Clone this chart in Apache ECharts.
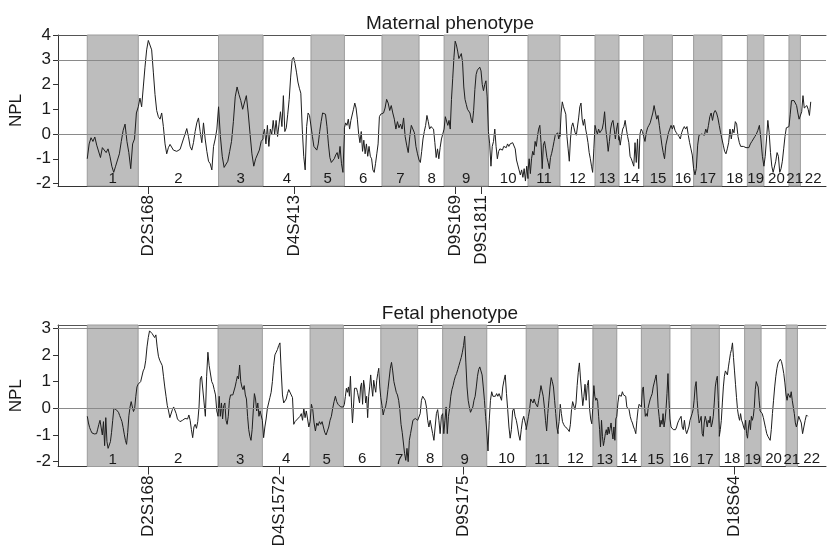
<!DOCTYPE html>
<html>
<head>
<meta charset="utf-8">
<script src="https://cdn.jsdelivr.net/npm/echarts@6/dist/echarts.min.js"></script>
<style>
  html, body { margin: 0; padding: 0; background: #fff; }
  #chart { width: 827px; height: 550px; }
</style>
</head>
<body>
<div id="chart"></div>
<script>
const chromosomes = ['1', '2', '3', '4', '5', '6', '7', '8', '9', '10', '11', '12', '13', '14', '15', '16', '17', '18', '19', '20', '21', '22'];
// genetic length of each chromosome, cM
const chrLengths = [281, 442, 245, 264, 184, 207, 204, 138, 244, 218, 176, 193, 132, 136, 158, 117, 156, 140, 91, 138, 63, 57];

// NPL scores along each chromosome (evenly spaced scan points)
const maternalNpl = [
    [-1.0, -0.4, -0.15, -0.3, -0.12, -0.45, -0.5, -0.95, -0.55, -0.6, -0.75, -0.6, -0.9, -1.3, -1.55, -1.3, -1.25, -0.8, -0.3, 0.15, 0.4, -0.3, -0.75, -1.4, -0.4, -0.2, 0.85, 1.1],
    [1.1, 1.45, 1.1, 1.9, 2.7, 3.4, 3.78, 3.7, 3.4, 2.5, 1.6, 0.95, 0.7, 0.6, 0.85, 0.3, -0.4, -0.8, -0.55, -0.42, -0.45, -0.65, -0.7, -0.7, -0.7, -0.62, -0.55, -0.2, 0.0, 0.22, -0.1, -0.5, -0.65, -0.35, 0.1, 0.45, 0.65, 0.1, -0.35, 0.45, -0.2, -0.7, -1.1, -1.2, -1.45, -0.5, -0.2, 0.2, 1.1],
    [1.1, -0.1, -0.9, -1.35, -1.35, -1.1, -0.7, -0.3, 0.5, 1.5, 1.9, 1.6, 1.35, 1.0, 1.05, 1.55, 0.85, 0.0, -0.8, -1.3, -1.0, -0.95, -0.65, -0.3, -0.2],
    [-0.05, 0.2, -0.4, 0.35, -0.5, 0.2, 0.0, 0.55, 0.0, 0.55, -0.1, 0.4, 0.9, 0.3, 1.55, 0.1, 0.25, 0.8, 1.4, 2.3, 3.0, 3.1, 2.85, 2.5, 2.1, 1.85, 1.65, 0.2, -0.9, -1.45, 0.3, 0.85, 0.75, 0.7],
    [0.7, -0.1, -0.5, -0.58, -0.65, -0.4, 0.1, 0.5, 0.85, 0.85, 0.8, 0.3, -0.4, -0.95, -1.15, -1.18, -1.0, -0.85, -0.75, -1.0, -0.5, -1.2, -1.55, 0.0],
    [0.25, 0.45, 0.35, 0.6, 0.2, 0.55, 0.5, 1.0, 1.25, 1.05, 0.6, 0.0, -0.35, 0.1, -0.7, -0.25, -0.8, -0.4, -0.9, -0.5, -0.9, -1.0, -1.45, -1.55, -1.2, -0.8, -0.4, 0.7, 0.8, 0.85],
    [0.8, 0.85, 1.05, 1.4, 1.25, 0.95, 1.15, 0.85, 0.6, 0.2, 0.5, 0.25, 0.4, 0.2, 0.65, -0.1, -0.45, -0.75, -0.1, 0.35, 0.35, 0.05, -0.5, -0.8, -1.05],
    [-1.05, -1.15, -0.7, -0.2, 0.1, 0.35, 0.75, 0.5, 0.2, 0.3, 0.3, 0.2, -0.35, -0.95, -0.6, -1.0, -0.55, -0.2, 0.0, 0.2],
    [0.2, 0.7, 0.75, 0.35, 0.55, 0.2, 1.4, 2.25, 3.1, 3.75, 3.6, 3.35, 3.05, 3.05, 3.25, 2.9, 1.9, 1.4, 1.2, 1.0, 0.95, 0.85, 0.6, 0.45, 0.95, 1.8, 2.4, 2.58, 2.62, 2.7, 2.55, 2.0, 1.75, 2.0, 2.15, 1.5, 0.1],
    [0.1, -0.4, -1.3, -0.5, -0.3, 0.2, -0.5, -1.0, -0.7, -0.6, -0.55, -0.65, -0.5, -0.45, -0.55, -0.4, -0.5, -0.4, -0.35, -0.35, -0.27, -0.6, -1.05, -1.25, -1.45, -1.65, -1.45, -1.75, -1.4, -1.9, -1.3, -1.8],
    [-1.5, -1.0, -1.6, -1.0, -0.7, -0.85, -0.3, -0.5, -0.1, 0.2, 0.35, -0.35, -1.4, -0.45, -0.3, -0.6, -0.95, -1.15, -1.4, -0.95, -0.78, -0.55, -0.3, -0.05, 0.0, 0.05, -0.2, 0.05],
    [-0.1, 0.85, 1.3, 1.1, 1.1, 0.8, -0.1, -0.6, -1.1, -0.2, 0.3, 0.45, 0.25, 0.05, -0.05, 0.0, 0.65, 1.1, 1.25, 0.6, 0.35, 0.6, 0.2, -0.05, -0.35, -0.75, -1.0, -1.3, -1.55, -0.6, 0.35],
    [0.3, 0.15, 0.0, 0.2, 0.05, 0.05, 0.2, 0.45, 0.9, 0.2, -0.2, -0.7, -0.3, 0.2, 0.45, 0.55, 0.2, -0.2, 0.2, 0.45, -0.25],
    [-0.1, -0.45, -0.1, 0.2, 0.3, 0.55, 0.2, -0.1, -0.35, -0.9, -1.0, -1.05, -1.3, -0.35, -1.15, -0.2, -1.4, 0.0, 0.2, 0.1, 0.05],
    [-0.1, -0.3, 0.05, 0.25, 0.35, 0.45, 0.65, 0.85, 1.15, 1.1, 0.6, 0.75, 0.35, -0.05, -0.45, -0.75, -1.0, -0.45, -0.4, 0.05, 0.2, 0.35, 0.2],
    [0.2, 0.35, 0.15, 0.05, 0.0, -0.1, -0.2, 0.05, 0.2, 0.3, 0.2, 0.3, -0.05, -0.35, -0.6, -0.85, -1.4],
    [-1.4, -1.65, -1.4, -0.45, -0.05, 0.0, 0.0, 0.05, -0.05, 0.2, 0.05, 0.35, 0.7, 0.85, 0.55, 0.85, 0.95, 0.85, 0.65, 0.35, 0.05, -0.2],
    [-0.2, -0.45, -0.7, -0.8, -0.6, -0.35, 0.2, -0.2, 0.2, 0.05, 0.5, 0.4, -0.1, -0.35, -0.5, -0.55, -0.5, -0.55, -0.55, -0.55],
    [-0.55, -0.55, -0.4, -0.3, -0.2, -0.1, 0.0, 0.15, 0.35, -0.2, -0.9, -1.3],
    [-1.3, -0.9, -0.2, 0.55, 0.05, -0.75, -1.3, -1.55, -1.5, -1.1, -0.75, -0.9, -1.55, -1.4, -1.1, -0.6, -0.1, 0.25, 0.25, 0.3],
    [0.3, 0.8, 1.35, 1.4, 1.35, 1.3, 1.15, 0.85, 0.6, 0.55],
    [0.55, 0.9, 1.55, 1.05, 1.0, 1.15, 1.0, 0.75, 1.3]
];

const fetalNpl = [
    [-0.3, -0.55, -0.72, -0.83, -0.92, -0.94, -0.96, -0.97, -0.95, -0.78, -0.6, -0.45, -0.5, -1.0, -0.5, -1.4, -0.35, -1.25, -1.5, -1.47, -1.25, -0.9, -0.45, 0.0, 0.02, -0.05, -0.05, -0.15, -0.27, -0.38, -0.5, -0.72, -0.97, -1.2, -1.35, -0.9, -0.28, 0.05, 0.25, 0.05, -0.12, 0.0, 0.45, 0.8, 0.9],
    [0.9, 0.95, 1.0, 1.05, 1.4, 1.5, 1.8, 2.3, 2.65, 2.9, 2.85, 2.8, 2.75, 2.65, 2.75, 2.3, 1.95, 1.8, 1.7, 1.6, 1.2, 0.8, 0.45, 0.1, -0.1, -0.35, -0.4, -0.05, 0.05, 0.05, -0.2, -0.4, -0.45, -0.5, -0.5, -0.45, -0.42, -0.38, -0.35, -0.4, -0.25, -0.45, -0.8, -1.1, -0.7, -0.6, -0.75, -0.5, 0.05, 1.1, 1.2, 1.25, 0.2, -0.3, 1.2, 2.1, 1.6, 1.55, 1.0, 0.9, 0.7, 0.5, -0.1, -0.3],
    [-0.25, 0.45, -0.3, 0.2, -0.4, 0.1, 0.2, -0.45, -0.6, -0.3, 0.3, 0.5, 0.55, 0.5, 0.55, 0.8, 1.0, 1.2, 1.1, 1.62, 1.0, 0.8, 0.7, 0.85, 0.5, 0.35, -0.3, -0.8, -1.05, -1.2, -0.8, -0.1, 0.55, 0.35, -0.1, 0.2, -0.3, -0.1, -0.15, -0.45],
    [-0.45, -1.1, -0.7, -0.4, 0.0, 0.2, 0.4, 0.6, 1.0, 1.6, 2.0, 2.1, 2.2, 2.35, 2.45, 1.4, 0.5, 0.2, 0.15, 0.35, 0.55, 0.7, 0.7, 0.5, 0.4, -0.6, -0.5, -0.45, -0.4, -0.45, -0.3, -0.2, -0.45, 0.0, -0.35, -0.1, -0.4, -0.7, -0.5],
    [-0.45, 0.15, -0.05, -0.55, -0.85, -0.55, -0.65, -0.5, -0.6, -0.5, -0.7, -0.9, -1.0, -0.85, -0.7, -0.45, -0.3, 0.0, 0.25, 0.45, 0.25, 0.15, 0.1, 0.05, 0.0, 0.05],
    [0.05, 0.15, 0.45, 0.75, 0.6, 0.8, 0.45, 1.2, 0.2, -0.55, 0.05, 0.75, 0.7, 0.75, 0.6, 0.55, 0.2, 0.8, 0.95, 0.15, 1.05, 0.8, 0.2, 0.45, -0.35, 0.45, 0.8, 1.25, 0.8, 0.45, 1.05, 0.8, 0.6, 1.05, 1.3, 1.5, 0.8, 0.4],
    [0.4, 0.1, -0.25, -0.05, 0.05, 0.3, 0.7, 1.1, 1.5, 1.72, 1.4, 1.0, 0.8, 0.6, 0.5, 0.3, -0.05, -0.6, -0.9, -1.3, -1.7, -1.95, -1.5, -2.0, -1.2, -0.95, -0.7, -0.45, -0.45, -0.38, -0.4, -0.45],
    [-0.45, -0.4, -0.2, 0.3, 0.45, 0.38, 0.3, 0.05, -0.45, -0.7, -0.45, -0.7, -0.95, -1.2, -0.7, -0.2, -0.05, -0.45, -0.95, -0.3, -0.2],
    [-0.2, -0.95, -0.45, 0.05, -0.95, -0.3, 0.0, 0.45, 0.7, 0.85, 1.05, 1.2, 1.3, 1.45, 1.6, 1.75, 1.9, 2.1, 2.35, 2.7, 1.7, 0.8, 0.3, 0.05, -0.15, -0.2, 0.05, 0.3, 0.45, 0.8, 1.2, 1.45, 1.55, 1.4, 1.25, 0.8, 0.3, -0.3, -0.85],
    [-0.85, -1.6, -0.45, 0.3, 0.62, 0.45, 0.5, 0.45, 0.55, 0.45, 0.55, 0.62, 0.3, 0.8, 1.05, 1.25, 0.55, -0.05, -0.7, -1.12, -0.8, -0.1, 0.0, -0.3, -0.45, -0.7, -1.0, -1.2, -0.8, -0.45, -0.3, -0.35, -0.7],
    [-0.8, -0.55, -0.3, -0.05, 0.35, 0.4, 0.2, 0.35, 0.2, 0.25, 0.05, 0.3, 0.55, 0.85, 0.9, 0.45, 0.05, -0.45, -0.85, -0.2, 0.3, 0.8, 1.15, 1.0, 0.8, 0.3, -0.2, -0.7, -0.95],
    [-0.8, -0.5, 0.15, -0.2, -0.5, -0.6, -0.68, -0.72, -0.75, -0.8, -0.87, -0.6, -0.05, 0.25, 0.28, -0.05, 0.2, 0.85, 1.35, 1.7, 1.1, 1.15, 0.1, 0.45, 0.9, 0.3, 0.85, 1.05, 0.0, -0.4, -0.58, 0.1],
    [0.2, 0.85, 0.45, 0.3, 0.38, 0.25, -0.3, -0.8, -1.45, -0.45, -1.05, -1.4, -1.2, -0.95, -0.8, -1.0, -0.7, -0.95, -0.75, -0.55, -0.9, -1.15, -0.7, -1.2, -0.4, -0.3],
    [-0.3, 0.2, 0.5, 0.55, 0.45, 0.62, 0.5, 0.55, 0.45, 0.05, 0.05, -0.05, -0.3, -0.45, -0.55, -0.7, -0.8, -0.95, -0.45, -0.05, 0.15, 0.15, 0.05],
    [0.05, 0.7, 0.8, 0.2, -0.3, -0.2, -0.3, 0.05, 0.2, 0.35, 0.45, 0.55, 0.8, 0.95, 1.1, 1.25, 0.8, 0.05, -0.3, -0.7, -0.45, -0.6, -0.2, -0.7, -0.45, -0.05, 0.55, 1.3, 0.3, -0.4],
    [-0.45, -0.7, -0.75, -0.8, -0.75, -0.8, -0.7, -0.55, -0.45, -0.45, -0.3, -0.7, -0.8, -0.45, -0.8, -0.95, -1.0, -0.7, -0.45, -0.4],
    [-0.4, -0.2, -0.05, 0.3, 0.8, 1.0, 0.3, -0.2, -0.55, -0.45, -0.3, -0.95, -1.05, -0.55, -0.3, -0.45, -0.7, -0.45, -0.55, -0.3, -0.7, -0.55, -0.3, 0.2, 0.8, 1.05, 1.2, 0.3, -0.8],
    [-1.05, -0.8, -0.45, 0.2, 0.8, 1.2, 1.4, 1.45, 1.25, 1.55, 1.8, 2.05, 2.2, 2.45, 1.9, 1.4, 0.9, 0.4, -0.05, -0.3, -0.45, -0.2, -0.45, -0.55, -0.7, -0.8],
    [-0.8, -0.45, -0.95, -1.12, -0.7, -0.45, -0.8, -0.3, -0.45, -0.3, 0.05, 0.7, 1.0, 1.05, 0.8, 0.3, -0.1, -0.05],
    [-0.05, -0.2, -0.35, -0.55, -0.75, -0.95, -1.05, -1.1, -1.2, -0.8, -0.2, 0.3, 0.8, 1.2, 1.5, 1.7, 1.75, 1.84, 1.75, 1.55, 1.3, 0.95, 0.5],
    [0.5, 0.3, 0.55, 0.62, 0.4, 0.62, 0.3, 0.05, -0.2, -0.55, -0.7, -0.55],
    [-0.55, -0.3, -0.25, -0.55, -0.95, -0.7, -0.45, -0.25, -0.3]
];

// markers, genome-wide cM
const maternalMarkerNames = ['D2S168', 'D4S413', 'D9S169', 'D9S1811'];
const maternalMarkerPos = [336, 1138, 2025, 2171];
const fetalMarkerNames = ['D2S168', 'D4S1572', 'D9S175', 'D18S64'];
const fetalMarkerPos = [336, 1064, 2079, 3577];

const maternalTicks = [-2, -1, 0, 1, 2, 3, 4];
const fetalTicks = [-2, -1, 0, 1, 2, 3];

const font = '"Liberation Sans", Arial, Helvetica, sans-serif';
const ink = '#1a1a1a';

const chrStarts = [];
chrLengths.reduce((acc, len) => { chrStarts.push(acc); return acc + len; }, 0);

function curve(nplLists) {
    const pts = [];
    nplLists.forEach((vals, c) => {
        vals.forEach((v, i) => pts.push([chrStarts[c] + chrLengths[c] * i / (vals.length - 1), v]));
    });
    return pts;
}

function bands(xMax) {
    return chromosomes.map((name, c) => {
        const odd = c % 2 === 0;
        return [
            {
                xAxis: chrStarts[c],
                name,
                itemStyle: odd
                    ? { color: '#bdbdbd', borderColor: '#9c9c9c', borderWidth: 1 }
                    : { color: 'rgba(0,0,0,0)', borderWidth: 0 },
            },
            { xAxis: c === chromosomes.length - 1 ? xMax : chrStarts[c] + chrLengths[c] },
        ];
    });
}

const panels = [
    { title: 'Maternal phenotype', top: 35, height: 151, xMin: -161, xMax: 4068, yMin: -2.1, yMax: 4, ticks: maternalTicks, npl: maternalNpl, names: maternalMarkerNames, pos: maternalMarkerPos, titleTop: 9 },
    { title: 'Fetal phenotype', top: 325, height: 141.5, xMin: -162, xMax: 4085, yMin: -2.18, yMax: 3.12, ticks: fetalTicks, npl: fetalNpl, names: fetalMarkerNames, pos: fetalMarkerPos, titleTop: 299 },
];

const option = {
    backgroundColor: '#ffffff',
    animation: false,
    title: panels.map((p) => ({
        text: p.title,
        left: 445,
        top: p.titleTop,
        textAlign: 'center',
        textStyle: { fontFamily: font, fontSize: 19, fontWeight: 'normal', color: ink },
    })),
    grid: panels.map((p) => ({ left: 57, right: 1, top: p.top, height: p.height })),
    xAxis: [
        ...panels.map((p, i) => ({
            type: 'value',
            gridIndex: i,
            min: p.xMin,
            max: p.xMax,
            position: 'bottom',
            splitLine: { show: false },
            axisLine: { show: true, onZero: false, lineStyle: { color: '#333', width: 1 } },
            axisTick: { show: true, customValues: p.pos, length: 8, lineStyle: { color: '#333' } },
            axisLabel: {
                customValues: p.pos,
                formatter: (v) => p.names[p.pos.indexOf(v)] || '',
                rotate: 90,
                margin: 9,
                fontFamily: font,
                fontSize: 17,
                color: ink,
            },
        })),
        ...panels.map((p, i) => ({
            type: 'value',
            gridIndex: i,
            min: p.xMin,
            max: p.xMax,
            position: 'top',
            splitLine: { show: false },
            axisLine: { show: true, onZero: false, lineStyle: { color: '#555', width: 1 } },
            axisTick: { show: false },
            axisLabel: { show: false },
        })),
    ],
    yAxis: panels.map((p, i) => ({
        type: 'value',
        gridIndex: i,
        min: p.yMin,
        max: p.yMax,
        name: 'NPL',
        nameLocation: 'middle',
        nameGap: 28,
        nameTextStyle: { fontFamily: font, fontSize: 17, color: ink },
        splitLine: { show: false },
        axisLine: { show: true, onZero: false, lineStyle: { color: '#333', width: 1 } },
        axisTick: { show: true, customValues: p.ticks, length: 5, lineStyle: { color: '#333' } },
        axisLabel: { customValues: p.ticks, margin: 7, fontFamily: font, fontSize: 17, color: ink },
    })),
    series: panels.flatMap((p, i) => [
        {
            type: 'line',
            xAxisIndex: i,
            yAxisIndex: i,
            data: [],
            z: 1,
            silent: true,
            markArea: {
                silent: true,
                label: {
                    show: true,
                    position: 'insideBottom',
                    distance: 0,
                    fontFamily: font,
                    fontSize: 15,
                    lineHeight: 15,
                    color: ink,
                },
                data: bands(p.xMax),
            },
        },
        {
            type: 'line',
            xAxisIndex: i,
            yAxisIndex: i,
            data: curve(p.npl),
            z: 3,
            showSymbol: false,
            symbol: 'none',
            silent: true,
            lineStyle: { color: '#1e1e1e', width: 1 },
            markLine: {
                silent: true,
                symbol: ['none', 'none'],
                label: { show: false },
                lineStyle: { color: '#8a8a8a', width: 1, type: 'solid' },
                data: [{ yAxis: 0 }, { yAxis: 3 }],
            },
        },
    ]),
};

const chart = echarts.init(document.getElementById('chart'), null, { renderer: 'canvas' });
chart.setOption(option);
</script>
</body>
</html>
